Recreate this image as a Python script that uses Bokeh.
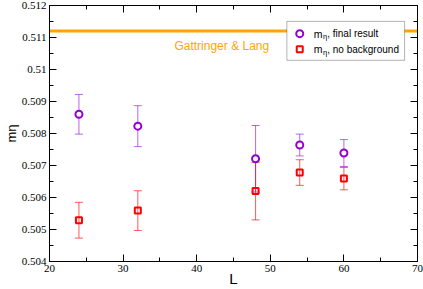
from bokeh.plotting import figure
from bokeh.models import (ColumnDataSource, Whisker, TeeHead, Span, Label, LinearAxis, Range1d,
                          SingleIntervalTicker, CustomJSTickFormatter, BoxAnnotation,
                          CustomLabelingPolicy)
from bokeh.embed import file_html
from bokeh.resources import INLINE

# ---------------- data ----------------
L = [24, 32, 48, 54, 60]
m_final = [0.50860, 0.50823, 0.50721, 0.50764, 0.50739]
m_final_err = [0.00062, 0.00064, 0.00104, 0.00034, 0.00042]
m_nobg = [0.50529, 0.50559, 0.50620, 0.50678, 0.50659]
m_nobg_err = [0.00056, 0.00062, 0.00090, 0.00040, 0.00035]
gl_value = 0.5112
gl_label = "Gattringer & Lang"
legend_tails = [", final result", ", no background"]
x_label = "L"
y_label = "mη"

X0, X1 = 20, 70
Y0, Y1 = 0.504, 0.512

# annotation positions are given relative to the plot box (fractions of its size)
def ax_(fx):
    return X0 + fx * (X1 - X0)

def ay_(fy):
    return Y0 + fy * (Y1 - Y0)

PURPLE = "#9400D3"
RED = "#FF0000"
ORANGE = "#FFA500"

p = figure(width=423, height=289, output_backend="svg", toolbar_location=None,
           x_range=Range1d(X0, X1), y_range=Range1d(Y0, Y1),
           min_border_left=48, min_border_right=6, min_border_top=5, min_border_bottom=27)
p.xgrid.visible = False
p.ygrid.visible = False
p.outline_line_color = "black"
p.background_fill_color = "white"
p.border_fill_color = "white"

no_labels = CustomLabelingPolicy(code="""
    const all = Array.from(indices)
    for (const i of all) indices.unset(i)
    return indices
""")

def style_axis(ax, show_labels):
    ax.major_tick_in = 7
    ax.major_tick_out = 0
    ax.minor_tick_in = 4
    ax.minor_tick_out = 0
    ax.axis_line_color = "black"
    ax.axis_line_width = 1
    ax.major_tick_line_color = "black"
    ax.minor_tick_line_color = "black"
    if show_labels:
        ax.major_label_text_font = "Liberation Serif"
        ax.major_label_text_font_size = "11px"
        ax.major_label_text_color = "black"
        ax.major_label_standoff = 3
        ax.axis_label_text_font = "Liberation Sans"
        ax.axis_label_text_font_style = "normal"
        ax.axis_label_text_color = "black"
    else:
        ax.major_label_policy = no_labels
        ax.major_label_text_font_size = "0px"
        ax.major_label_standoff = 0

xax = p.xaxis[0]
yax = p.yaxis[0]
xax.ticker = SingleIntervalTicker(interval=10, num_minor_ticks=2)
yax.ticker = SingleIntervalTicker(interval=0.001, num_minor_ticks=2)
yax.formatter = CustomJSTickFormatter(code="return String(parseFloat(tick.toFixed(3)));")
style_axis(xax, True)
style_axis(yax, True)
xax.axis_label = x_label
xax.axis_label_text_font_size = "15px"
xax.axis_label_standoff = -5
yax.axis_label = y_label
yax.axis_label_text_font_size = "13px"
yax.axis_label_standoff = 0

top_ax = LinearAxis(ticker=SingleIntervalTicker(interval=10, num_minor_ticks=2))
right_ax = LinearAxis(ticker=SingleIntervalTicker(interval=0.001, num_minor_ticks=2))
style_axis(top_ax, False)
style_axis(right_ax, False)
p.add_layout(top_ax, "above")
p.add_layout(right_ax, "right")

# reference line and its caption
p.add_layout(Span(location=gl_value, dimension="width", line_color=ORANGE, line_width=3,
                  level="underlay"))
p.add_layout(Label(x=ax_(0.3395), y=ay_(0.8425), text=gl_label, text_color=ORANGE,
                   text_font="Liberation Sans", text_font_size="12px",
                   text_baseline="alphabetic", text_align="left"))

# data
src_f = ColumnDataSource(dict(L=L, m=m_final,
                              lo=[v - e for v, e in zip(m_final, m_final_err)],
                              hi=[v + e for v, e in zip(m_final, m_final_err)]))
src_n = ColumnDataSource(dict(L=L, m=m_nobg,
                              lo=[v - e for v, e in zip(m_nobg, m_nobg_err)],
                              hi=[v + e for v, e in zip(m_nobg, m_nobg_err)]))

for src, col, alpha in ((src_f, PURPLE, 0.6), (src_n, RED, 0.65)):
    p.add_layout(Whisker(base="L", lower="lo", upper="hi", source=src, dimension="height",
                         line_color=col, line_alpha=alpha, line_width=1,
                         upper_head=TeeHead(size=8, line_color=col, line_alpha=alpha, line_width=1),
                         lower_head=TeeHead(size=8, line_color=col, line_alpha=alpha, line_width=1)))

p.scatter("L", "m", source=src_f, marker="circle", size=7, line_width=2,
          line_color=PURPLE, fill_color="white")
p.scatter("L", "m", source=src_n, marker="square", size=6, line_width=2,
          line_color=RED, fill_color=None)

# legend (drawn by hand so that the subscript can be shown)
p.add_layout(BoxAnnotation(left=ax_(0.645), right=ax_(0.965), bottom=ay_(0.786), top=ay_(0.938),
                           fill_color="white", fill_alpha=1.0, line_color="black",
                           line_width=1, level="underlay"))
leg_rows = [ay_(0.890), ay_(0.829)]
leg_x = ax_(0.680)
p.scatter([leg_x], [leg_rows[0]], marker="circle", size=7, line_width=2,
          line_color=PURPLE, fill_color="white")
p.scatter([leg_x], [leg_rows[1]], marker="square", size=6, line_width=2,
          line_color=RED, fill_color=None)
for yy, tail in zip(leg_rows, legend_tails):
    common = dict(x=ax_(0.718), y=yy, text_font="Liberation Sans", text_color="black",
                  text_baseline="middle", text_align="left")
    p.add_layout(Label(text="m", text_font_size="10.5px", x_offset=0, **common))
    p.add_layout(Label(text="η", text_font_size="7.5px", x_offset=9.3, y_offset=-3, **common))
    p.add_layout(Label(text=tail, text_font_size="10px", x_offset=13.5, **common))

open("out.html", "w").write(file_html(p, INLINE))
